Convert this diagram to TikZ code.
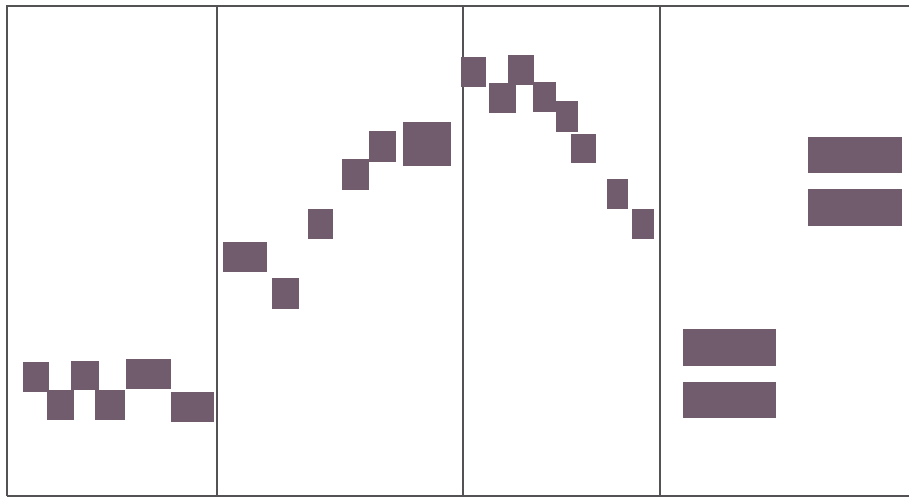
\documentclass[tikz,border=0pt]{standalone}
\usepackage{xcolor}
\definecolor{mauve}{RGB}{112,92,108}
\definecolor{rule}{RGB}{85,82,86}

\begin{document}
\begin{tikzpicture}[x=1pt,y=-1pt, blk/.style={fill=mauve}, frame/.style={rule, line width=1.6pt}]
  \useasboundingbox (0,0) rectangle (909,499);
  \draw [frame]    (7,496) -- (7,6) -- (909,6);
  \draw [frame]    (7,496) -- (909,496);
  \draw [frame]    (217,6) -- (217,496);
  \draw [frame]    (463,6) -- (463,496);
  \draw [frame]    (660,6) -- (660,496);
  % first panel
  \path [blk] (23,362) rectangle (49,392);
  \path [blk] (47,390) rectangle (74,420);
  \path [blk] (71,361) rectangle (99,390);
  \path [blk] (95,390) rectangle (125,420);
  \path [blk] (126,359) rectangle (171,389);
  \path [blk] (171,392) rectangle (214,422);
  % second panel
  \path [blk] (223,242) rectangle (267,272);
  \path [blk] (272,278) rectangle (299,309);
  \path [blk] (308,209) rectangle (333,239);
  \path [blk] (342,159) rectangle (369,190);
  \path [blk] (369,131) rectangle (396,162);
  \path [blk] (403,122) rectangle (451,166);
  % third panel
  \path [blk] (461,57) rectangle (486,87);
  \path [blk] (489,83) rectangle (516,113);
  \path [blk] (508,55) rectangle (534,85);
  \path [blk] (533,82) rectangle (556,112);
  \path [blk] (556,101) rectangle (578,132);
  \path [blk] (571,134) rectangle (596,163);
  \path [blk] (607,179) rectangle (628,209);
  \path [blk] (632,209) rectangle (654,239);
  % fourth panel
  \path [blk] (808,137) rectangle (902,173);
  \path [blk] (808,189) rectangle (902,226);
  \path [blk] (683,329) rectangle (776,366);
  \path [blk] (683,382) rectangle (776,418);
\end{tikzpicture}
\end{document}
